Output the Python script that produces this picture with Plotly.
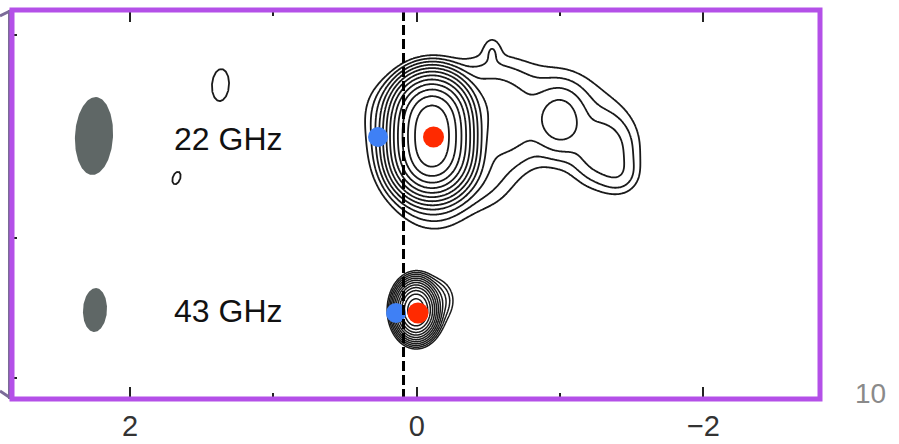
import numpy as np
import plotly.graph_objects as go

# ---------------- data (offsets in mas; x = relative RA, y = relative Dec) ----------------
# 22 GHz brightness model: Gaussian components (x, y, amplitude, sigma_x, sigma_y)
k22_x = [-0.1067, -0.1067, -0.1067, -0.1067, -0.1067,
         -0.0788, -0.1277, 0.2211, -0.8950, -0.5113, -1.0000, -1.2996, -1.4182, -0.5253, -0.4416,
         -0.6160]
k22_y = [2.0021, 1.9184, 1.8347, 1.7510, 1.6673,
         1.7998, 1.4719, 2.0160, 1.9812, 2.1207, 1.9463, 1.7370, 1.5626, 2.4346, 1.5626,
         1.8626]
k22_amp = [0.34, 0.34, 0.34, 0.34, 0.34,
           0.004, 1.0e-3, 3e-4, 7e-4, 1.0e-3, 2.5e-3, 1.6e-3, 5e-4, 3.5e-4, 6e-4,
           8e-4]
k22_sx = [0.1005, 0.1005, 0.1005, 0.1005, 0.1005,
          0.1744, 0.1395, 0.0977, 0.3139, 0.1744, 0.0977, 0.1256, 0.0837, 0.0419, 0.1535,
          0.1395]
k22_sy = [0.1012, 0.1012, 0.1012, 0.1012, 0.1012,
          0.2093, 0.1535, 0.1256, 0.2093, 0.1535, 0.1256, 0.1395, 0.0837, 0.0628, 0.1535,
          0.1535]

# 43 GHz brightness model
k43_x = [0.0049, -0.0230, -0.1277]
k43_y = [0.6209, 0.6348, 0.6906]
k43_amp = [1.0, 0.004, 1.5e-3]
k43_sx = [0.0488, 0.0767, 0.0628]
k43_sy = [0.0663, 0.0907, 0.0698]

# contour levels: log2 of fraction of peak
level_lo, level_hi = -12, -1

# restoring beams (centre x, centre y, major, minor, position angle deg)
beam_x = [2.2511, 2.2442]
beam_y = [1.8347, 0.6209]
beam_major = [0.5441, 0.3069]
beam_minor = [0.2651, 0.1674]
beam_pa = [-3, -3]

# isolated lowest-level islands
isl_x = [1.3687, 1.6756]
isl_y = [2.1904, 1.5417]
isl_major = [0.2232, 0.0907]
isl_minor = [0.1186, 0.0523]
isl_pa = [-4, -20]

# component positions (blue / red markers) for each band
band_labels = ["22 GHz", "43 GHz"]
band_label_x = [1.3198, 1.3198]
band_label_y = [1.8137, 0.6139]
blue_x = [0.2700, 0.1444]
blue_y = [1.8277, 0.5999]
red_x = [-0.1172, -0.0091]
red_y = [1.8277, 0.5999]

ref_line_x = 0.0921
x_ticks = [2, 0, -2]
x_ticktext = ["2", "0", "\u22122"]
x_minor = [1, -1]
y_ticks = [2.539, 1.123, 0.1465]
x_range = [2.823, -2.813]
y_range = [0.0, 2.714]
page_number = "10"

FONT = "Liberation Sans, Arial, Helvetica"


def brightness(X, Y, xs, ys, amps, sxs, sys_):
    f = np.zeros_like(X)
    for cx, cy, a, sx, sy in zip(xs, ys, amps, sxs, sys_):
        f += a * np.exp(-((X - cx) ** 2) / (2 * sx ** 2) - ((Y - cy) ** 2) / (2 * sy ** 2))
    f = f / f.max()
    return np.log2(np.maximum(f, 1e-30))


def ellipse(cx, cy, major, minor, pa_deg, n=160):
    t = np.linspace(0, 2 * np.pi, n)
    pa = np.radians(pa_deg)
    u = 0.5 * major * np.cos(t)
    v = 0.5 * minor * np.sin(t)
    return cx + u * np.sin(pa) + v * np.cos(pa), cy + u * np.cos(pa) - v * np.sin(pa)


fig = go.Figure()

line_cs = [[0, "#1a1a1a"], [1, "#1a1a1a"]]

# 22 GHz map
gx = np.arange(-1.9, 0.7, 0.007)
gy = np.arange(1.0, 2.714, 0.007)
GX, GY = np.meshgrid(gx, gy)
z22 = brightness(GX, GY, k22_x, k22_y, k22_amp, k22_sx, k22_sy)
fig.add_trace(go.Contour(
    x=np.round(gx, 4), y=np.round(gy, 4), z=np.round(z22, 3),
    contours=dict(start=level_lo, end=level_hi, size=1, coloring="lines"),
    colorscale=line_cs, showscale=False, line=dict(width=1.8), hoverinfo="skip",
))

# 43 GHz map
hx = np.arange(-0.45, 0.45, 0.004)
hy = np.arange(0.2, 1.05, 0.004)
HX, HY = np.meshgrid(hx, hy)
z43 = brightness(HX, HY, k43_x, k43_y, k43_amp, k43_sx, k43_sy)
fig.add_trace(go.Contour(
    x=np.round(hx, 4), y=np.round(hy, 4), z=np.round(z43, 3),
    contours=dict(start=level_lo, end=level_hi, size=1, coloring="lines"),
    colorscale=line_cs, showscale=False, line=dict(width=1.5), hoverinfo="skip",
))

# restoring beams
for bx, by, bmaj, bmin, bpa in zip(beam_x, beam_y, beam_major, beam_minor, beam_pa):
    ex, ey = ellipse(bx, by, bmaj, bmin, bpa)
    fig.add_trace(go.Scatter(x=ex, y=ey, mode="lines", fill="toself",
                             fillcolor="#5f6766", line=dict(width=0, color="#5f6766"),
                             hoverinfo="skip", showlegend=False))

# islands
for ix, iy, imaj, imin, ipa in zip(isl_x, isl_y, isl_major, isl_minor, isl_pa):
    ex, ey = ellipse(ix, iy, imaj, imin, ipa)
    fig.add_trace(go.Scatter(x=ex, y=ey, mode="lines", line=dict(width=1.8, color="#1a1a1a"),
                             hoverinfo="skip", showlegend=False))

# component markers
fig.add_trace(go.Scatter(x=blue_x, y=blue_y, mode="markers",
                         marker=dict(size=20, color="#3f80f5", line=dict(width=0)),
                         hoverinfo="skip", showlegend=False))
fig.add_trace(go.Scatter(x=red_x, y=red_y, mode="markers",
                         marker=dict(size=21, color="#ff2a00", line=dict(width=0)),
                         hoverinfo="skip", showlegend=False))

for txt, tx, ty in zip(band_labels, band_label_x, band_label_y):
    fig.add_annotation(x=tx, y=ty, text=txt, showarrow=False, xanchor="center", yanchor="middle",
                       font=dict(family=FONT, size=32, color="#111"))

fig.add_annotation(x=1.0631, y=0.0154, xref="paper", yref="paper", text=page_number,
                   xanchor="center", yanchor="middle", showarrow=False,
                   font=dict(family=FONT, size=28, color="#8a8a8a"))

shapes = [
    dict(type="line", xref="x", yref="paper", x0=ref_line_x, x1=ref_line_x, y0=0, y1=1,
         line=dict(color="black", width=3, dash="10px,4px"), layer="above"),
    dict(type="line", xref="paper", yref="paper", x0=-0.0031, x1=-0.0031, y0=0, y1=1,
         line=dict(color="#7b6b98", width=3)),
    dict(type="line", xref="paper", yref="paper", x0=-0.0149, y0=0.9846, x1=0, y1=1.0,
         line=dict(color="#7b6b98", width=3)),
    dict(type="line", xref="paper", yref="paper", x0=-0.0149, y0=0.0206, x1=0, y1=0.0,
         line=dict(color="#7b6b98", width=3)),
    dict(type="rect", xref="paper", yref="paper", x0=0, x1=1, y0=0, y1=1,
         line=dict(color="#b450e8", width=5)),
]

fig.update_layout(
    width=899, height=444,
    margin=dict(l=12, r=79, t=10, b=45, autoexpand=False),
    paper_bgcolor="white", plot_bgcolor="white",
    showlegend=False,
    shapes=shapes,
    xaxis=dict(range=x_range, tickvals=x_ticks, ticktext=x_ticktext, automargin=False,
               ticks="inside", ticklen=12, tickwidth=1.5, tickcolor="#222",
               mirror="ticks", showline=False, showgrid=False, zeroline=False,
               ticklabelstandoff=7,
               tickfont=dict(family=FONT, size=29, color="#333"),
               minor=dict(tickvals=x_minor, ticks="inside", ticklen=6, tickwidth=1.5, tickcolor="#222")),
    yaxis=dict(range=y_range, tickvals=y_ticks, showticklabels=False, automargin=False,
               ticks="inside", ticklen=5, tickwidth=1.5, tickcolor="#222",
               showline=False, showgrid=False, zeroline=False),
)

fig.write_html("out.html")
